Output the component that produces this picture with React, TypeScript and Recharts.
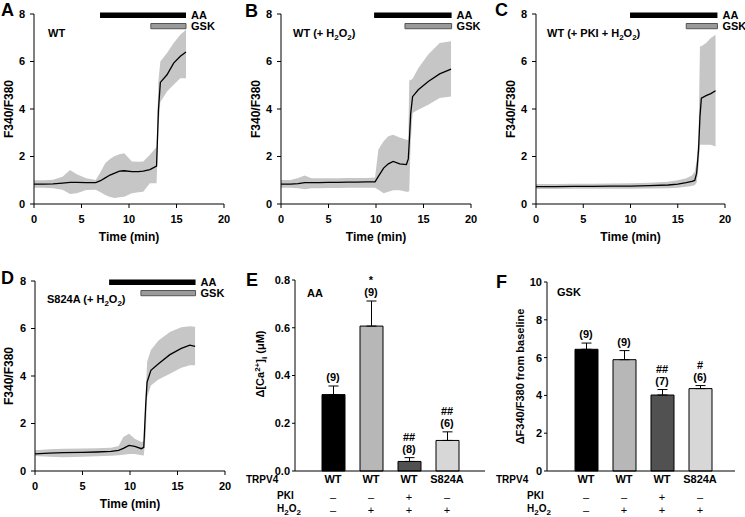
import React from 'react';
import { ComposedChart, Area, Line, Bar, XAxis, YAxis, ReferenceArea, ErrorBar, Cell, LabelList } from 'recharts';

const FONT = '"Liberation Sans", Arial, sans-serif';

// time axis (min) and ratio axis shared by the four traces
const timeTicks = [0, 5, 10, 15, 20];
const ratioTicks = [0, 2, 4, 6, 8];

// A - WT
const timeA = [0, 1, 2, 3, 3.8, 4.5, 5.5, 6.5, 7.0, 7.5, 8.0, 8.5, 9.0, 9.5, 10.3, 11.0, 11.5, 12.2, 12.9, 13.1, 13.3, 14.0, 14.7, 15.4, 16.0];
const meanA = [0.84, 0.84, 0.85, 0.88, 0.91, 0.91, 0.9, 0.9, 0.98, 1.1, 1.22, 1.3, 1.38, 1.4, 1.36, 1.36, 1.38, 1.45, 1.6, 3.97, 5.12, 5.44, 5.93, 6.22, 6.4];
const lowA = [0.68, 0.68, 0.66, 0.6, 0.42, 0.45, 0.59, 0.6, 0.5, 0.38, 0.3, 0.25, 0.28, 0.31, 0.45, 0.5, 0.52, 0.87, 0.87, 3.2, 4.3, 4.74, 5.02, 5.3, 5.3];
const highA = [1.0, 1.0, 1.02, 1.15, 1.43, 1.25, 1.08, 1.01, 1.35, 1.72, 1.9, 2.02, 2.1, 2.14, 1.79, 1.78, 1.79, 2.07, 2.4, 5.2, 6.0, 6.36, 6.78, 7.13, 7.34];
const aaA = [6.95, 16.0];
const gskA = [12.3, 16.0];

// B - WT + H2O2
const timeB = [0, 1, 1.8, 2.5, 3.2, 4, 5, 6, 7, 8, 9, 9.9, 10.25, 10.8, 11.3, 11.8, 12.5, 13.2, 13.4, 13.5, 13.65, 13.85, 14.45, 15.5, 16.7, 17.9];
const meanB = [0.84, 0.84, 0.86, 0.9, 0.9, 0.9, 0.91, 0.91, 0.92, 0.92, 0.93, 0.93, 1.16, 1.51, 1.69, 1.79, 1.69, 1.66, 1.9, 2.6, 3.8, 4.52, 4.81, 5.16, 5.48, 5.68];
const lowB = [0.68, 0.68, 0.66, 0.62, 0.66, 0.66, 0.67, 0.67, 0.68, 0.68, 0.68, 0.68, 0.6, 0.45, 0.52, 0.58, 0.58, 0.52, 0.52, 0.55, 2.6, 3.83, 3.97, 4.18, 4.46, 4.53];
const highB = [1.01, 1.01, 1.1, 1.2, 1.08, 1.08, 1.08, 1.08, 1.09, 1.1, 1.1, 1.12, 2.3, 2.64, 2.85, 2.92, 2.8, 2.71, 2.71, 5.2, 5.22, 5.27, 5.72, 6.29, 6.78, 6.85];
const aaB = [9.8, 17.96];
const gskB = [13.05, 17.96];

// C - WT + PKI + H2O2
const timeC = [0, 2, 4, 6, 8, 10, 12, 14, 15, 15.9, 16.5, 16.8, 17.0, 17.2, 17.35, 17.5, 18.0, 18.5, 19.0];
const meanC = [0.73, 0.73, 0.74, 0.74, 0.75, 0.75, 0.77, 0.8, 0.84, 0.9, 0.95, 0.99, 1.3, 2.28, 3.68, 4.46, 4.56, 4.65, 4.77];
const lowC = [0.63, 0.63, 0.64, 0.64, 0.64, 0.64, 0.65, 0.66, 0.68, 0.73, 0.76, 0.8, 0.9, 1.57, 2.5, 2.5, 2.5, 2.5, 2.42];
const highC = [0.84, 0.84, 0.85, 0.85, 0.86, 0.87, 0.9, 0.94, 1.0, 1.08, 1.2, 1.36, 1.8, 2.85, 6.64, 6.64, 6.78, 6.99, 7.13];
const aaC = [9.95, 19.2];
const gskC = [15.9, 19.2];

// D - S824A + H2O2
const timeD = [0, 1.5, 3, 5, 6.5, 8, 8.8, 9.3, 9.9, 10.5, 11.2, 11.45, 11.65, 11.8, 12.2, 13.0, 14.2, 15.4, 16.3, 16.85];
const meanD = [0.72, 0.75, 0.77, 0.78, 0.8, 0.83, 0.87, 0.95, 1.08, 1.04, 0.94, 1.0, 2.76, 3.75, 4.24, 4.52, 4.9, 5.16, 5.3, 5.25];
const lowD = [0.63, 0.6, 0.58, 0.6, 0.62, 0.64, 0.66, 0.68, 0.72, 0.72, 0.66, 0.65, 1.5, 3.1, 3.6, 3.85, 4.1, 4.35, 4.45, 4.45];
const highD = [0.87, 0.92, 0.94, 0.95, 0.96, 0.98, 1.05, 1.43, 1.57, 1.36, 1.22, 1.25, 3.2, 4.6, 5.1, 5.5, 5.85, 6.05, 6.1, 6.07];
const aaD = [7.8, 16.9];
const gskD = [11.15, 16.9];

// E / F summary bars
const trpv4 = ['WT', 'WT', 'WT', 'S824A'];
const pki = ['–', '–', '+', '–'];
const peroxide = ['–', '+', '+', '+'];
const aaMean = [0.32, 0.607, 0.04, 0.128];
const aaSem = [0.036, 0.105, 0.016, 0.036];
const aaN = ['(9)', '(9)', '(8)', '(6)'];
const aaSig = ['', '*', '##', '##'];
const gskMean = [6.44, 5.89, 4.02, 4.36];
const gskSem = [0.33, 0.48, 0.29, 0.16];
const gskN = ['(9)', '(9)', '(7)', '(6)'];
const gskSig = ['', '', '##', '#'];
const barColors = ['#000000', '#b7b7b7', '#515151', '#d7d7d7'];

const bold = { fill: '#000', fontSize: 11, fontWeight: 'bold', fontFamily: FONT };

const Sub = ({ children }: any) => <span style={{ fontSize: 8, position: 'relative', top: 3 }}>{children}</span>;
const H2O2 = () => <>H<Sub>2</Sub>O<Sub>2</Sub></>;

const Note = ({ left, top, size = 11, children }: any) => (
  <div style={{ position: 'absolute', left, top, fontSize: size, fontWeight: 'bold', lineHeight: `${size + 2}px`, whiteSpace: 'nowrap', color: '#000' }}>
    {children}
  </div>
);

const Letter = ({ left, top, children }: any) => (
  <div style={{ position: 'absolute', left, top, fontSize: 18, fontWeight: 'bold', lineHeight: '18px' }}>{children}</div>
);

function Trace({ left, top, width, height, margin, yw, labelOffset, time, mean, low, high, aa, gsk }: any) {
  const data = time.map((t: number, i: number) => ({ t, mean: mean[i], band: [low[i], high[i]] }));
  return (
    <div style={{ position: 'absolute', left, top }}>
      <ComposedChart width={width} height={height} data={data} margin={margin}>
        <XAxis
          type="number" dataKey="t" domain={[0, 20]} ticks={timeTicks} height={24}
          axisLine={{ stroke: '#000' }} tickLine={{ stroke: '#000' }} tickSize={4} tickMargin={7} tick={bold}
          label={{ value: 'Time (min)', position: 'bottom', offset: 4, ...bold, fontSize: 12 }}
        />
        <YAxis
          type="number" domain={[0, 8]} ticks={ratioTicks} width={yw}
          axisLine={{ stroke: '#000' }} tickLine={{ stroke: '#000' }} tickSize={4} tickMargin={5} tick={bold}
          label={{ value: 'F340/F380', angle: -90, position: 'insideLeft', offset: labelOffset, ...bold, fontSize: 12, style: { textAnchor: 'middle' } }}
        />
        <Area dataKey="band" type="linear" stroke="none" fill="#c6c6c6" fillOpacity={1} isAnimationActive={false} />
        <Line dataKey="mean" type="linear" stroke="#000" strokeWidth={1.3} dot={false} isAnimationActive={false} />
        <ReferenceArea
          x1={aa[0]} x2={aa[1]} y1={7.83} y2={8.06} fill="#000" fillOpacity={1} stroke="none" ifOverflow="visible"
          label={{ value: 'AA', position: 'right', offset: 5, ...bold }}
        />
        <ReferenceArea
          x1={gsk[0]} x2={gsk[1]} y1={7.38} y2={7.6} fill="#9a9a9a" fillOpacity={1} stroke="#555" ifOverflow="visible"
          label={{ value: 'GSK', position: 'right', offset: 5, ...bold }}
        />
      </ComposedChart>
    </div>
  );
}

const ConditionTick = ({ x, y, payload }: any) => {
  const i = Number(payload.value);
  return (
    <g>
      <text x={x} y={y + 12} textAnchor="middle" {...bold}>{trpv4[i]}</text>
      <text x={x} y={y + 30} textAnchor="middle" fill="#000" fontSize={11} fontFamily={FONT}>{pki[i]}</text>
      <text x={x} y={y + 43} textAnchor="middle" fill="#000" fontSize={11} fontFamily={FONT}>{peroxide[i]}</text>
    </g>
  );
};

function Summary({ left, top, margin, yw, domain, ticks, fmt, mean, sem, n, sig, padding, ylabel, labelOffset }: any) {
  const data = mean.map((m: number, i: number) => ({ key: String(i), mean: m, err: [0, sem[i]], top: m + sem[i] }));
  const topLabel = (p: any) => {
    const { x, y, index } = p;
    return (
      <g>
        <text x={x} y={y - 5} textAnchor="middle" {...bold}>{n[index]}</text>
        {sig[index] ? (
          <text x={x} y={y - 17} textAnchor="middle" {...bold}>{sig[index]}</text>
        ) : null}
      </g>
    );
  };
  return (
    <div style={{ position: 'absolute', left, top }}>
      <ComposedChart width={250} height={262} data={data} margin={margin}>
        <XAxis
          dataKey="key" type="category" height={46} padding={padding} interval={0}
          axisLine={{ stroke: '#000' }} tickLine={false} tickSize={0} tickMargin={0}
          tick={(p: any) => <ConditionTick {...p} />}
        />
        <YAxis
          type="number" domain={domain} ticks={ticks} width={yw} tickFormatter={fmt}
          axisLine={{ stroke: '#000' }} tickLine={{ stroke: '#000' }} tickSize={3} tickMargin={2} tick={bold}
          label={ylabel ? { value: ylabel, angle: -90, position: 'insideLeft', offset: labelOffset, ...bold, style: { textAnchor: 'middle' } } : undefined}
        />
        <Bar dataKey="mean" barSize={23} stroke="#000" strokeWidth={1} isAnimationActive={false}>
          {data.map((d: any, i: number) => <Cell key={d.key} fill={barColors[i]} />)}
          <ErrorBar dataKey="err" width={5} stroke="#000" strokeWidth={1} direction="y" />
        </Bar>
        <Line dataKey="top" stroke="none" dot={false} activeDot={false} isAnimationActive={false}>
          <LabelList dataKey="top" content={topLabel} />
        </Line>
      </ComposedChart>
    </div>
  );
}

export default function App() {
  return (
    <div style={{ position: 'absolute', left: 0, top: 0, width: 745, height: 517, background: '#fff', fontFamily: FONT, overflow: 'hidden' }}>
      <Trace left={0} top={0} width={245} height={255} margin={{ top: 14, right: 21, bottom: 27, left: 0 }} yw={34} labelOffset={9}
        time={timeA} mean={meanA} low={lowA} high={highA} aa={aaA} gsk={gskA} />
      <Trace left={245} top={0} width={250} height={255} margin={{ top: 14, right: 24, bottom: 27, left: 0 }} yw={36} labelOffset={11}
        time={timeB} mean={meanB} low={lowB} high={highB} aa={aaB} gsk={gskB} />
      <Trace left={495} top={0} width={250} height={255} margin={{ top: 14, right: 20, bottom: 27, left: 0 }} yw={41} labelOffset={16}
        time={timeC} mean={meanC} low={lowC} high={highC} aa={aaC} gsk={gskC} />
      <Trace left={0} top={255} width={245} height={262} margin={{ top: 26, right: 20, bottom: 22, left: 0 }} yw={35} labelOffset={9}
        time={timeD} mean={meanD} low={lowD} high={highD} aa={aaD} gsk={gskD} />

      <Summary left={245} top={255} margin={{ top: 25, right: 10, bottom: 0, left: 0 }} yw={50}
        domain={[0, 0.8]} ticks={[0, 0.2, 0.4, 0.6, 0.8]} fmt={(v: number) => v.toFixed(1)}
        mean={aaMean} sem={aaSem} n={aaN} sig={aaSig} padding={{ left: 19, right: 19 }} />
      <Summary left={495} top={255} margin={{ top: 27, right: 10, bottom: 0, left: 0 }} yw={52}
        domain={[0, 10]} ticks={[0, 2, 4, 6, 8, 10]} fmt={(v: number) => String(v)}
        mean={gskMean} sem={gskSem} n={gskN} sig={gskSig} padding={{ left: 20, right: 16 }}
        ylabel="ΔF340/F380 from baseline" labelOffset={25} />

      {/* rotated title for E with super/subscripts */}
      <div style={{ position: 'absolute', left: 261, top: 364, transform: 'translate(-50%, -50%) rotate(-90deg)', fontSize: 11, fontWeight: 'bold', whiteSpace: 'nowrap', lineHeight: '14px' }}>
        Δ[Ca<span style={{ fontSize: 8, position: 'relative', top: -4 }}>2+</span>]<span style={{ fontSize: 8, position: 'relative', top: 3 }}>i</span> (μM)
      </div>

      <Letter left={1} top={1}>A</Letter>
      <Letter left={245} top={2}>B</Letter>
      <Letter left={495} top={1}>C</Letter>
      <Letter left={1} top={269}>D</Letter>
      <Letter left={246} top={271}>E</Letter>
      <Letter left={496} top={273}>F</Letter>

      <Note left={48} top={27}>WT</Note>
      <Note left={293} top={27}>WT (+ <H2O2 />)</Note>
      <Note left={547} top={27}>WT (+ PKI + <H2O2 />)</Note>
      <Note left={47} top={293}>S824A (+ <H2O2 />)</Note>
      <Note left={307} top={287}>AA</Note>
      <Note left={557} top={286}>GSK</Note>

      <Note left={246} top={474} size={10}>TRPV4</Note>
      <Note left={277} top={490} size={10}>PKI</Note>
      <Note left={277} top={503} size={10}><H2O2 /></Note>
      <Note left={496} top={474} size={10}>TRPV4</Note>
      <Note left={527} top={490} size={10}>PKI</Note>
      <Note left={527} top={503} size={10}><H2O2 /></Note>
    </div>
  );
}
